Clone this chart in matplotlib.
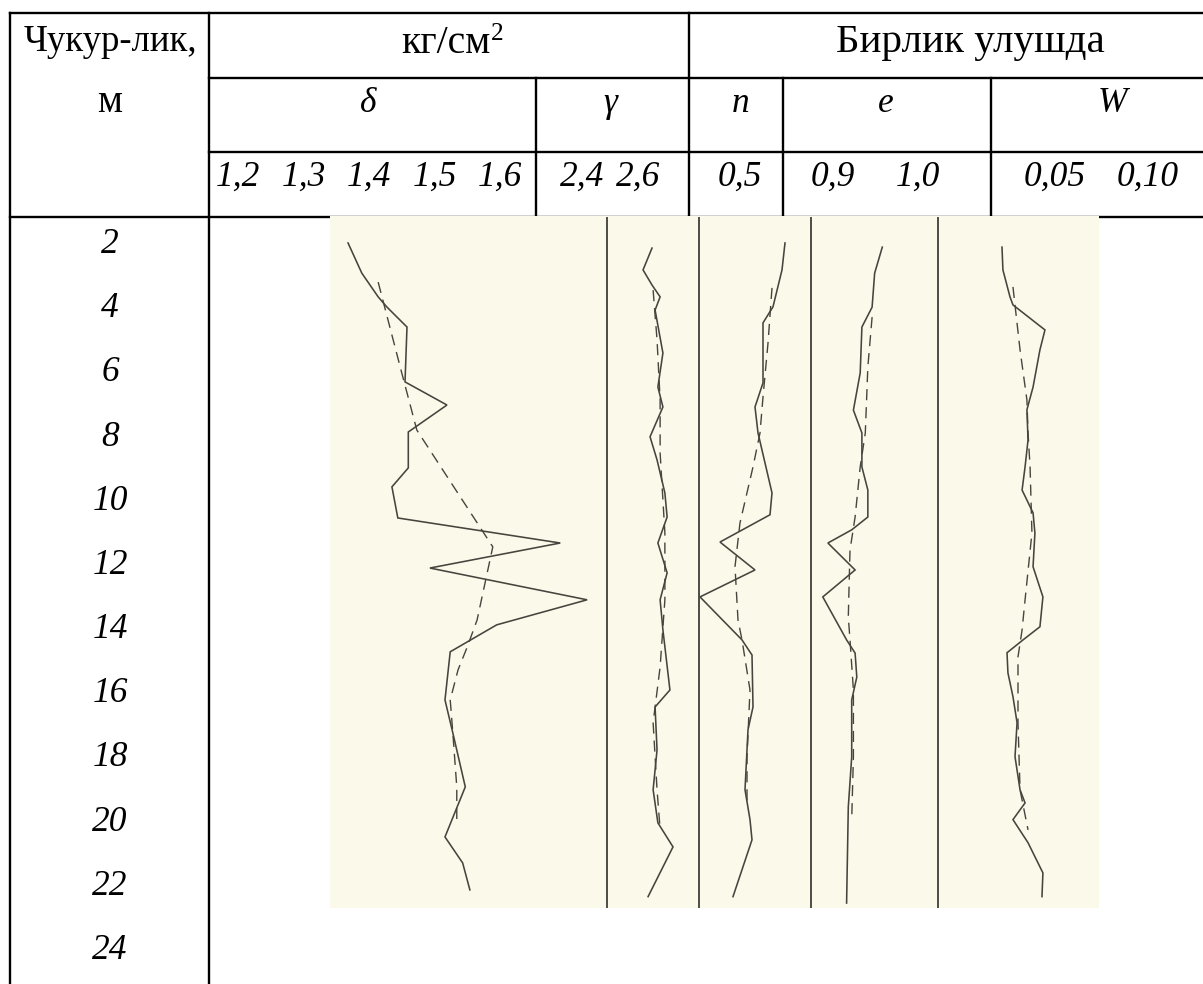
import matplotlib
matplotlib.use("Agg")
import matplotlib.pyplot as plt
from matplotlib.patches import Rectangle
from matplotlib import transforms

# ---------------- data ----------------
depth_ticks = [2, 4, 6, 8, 10, 12, 14, 16, 18, 20, 22, 24]

# delta (kg/cm2) - solid and dashed profiles
delta_depth = [2.03, 2.97, 3.71, 4.02, 4.65, 6.36, 7.08, 7.92, 9.04, 9.63, 10.6, 11.38,
               12.16, 13.15, 13.93, 14.77, 16.27, 17.3, 18.98, 20.54, 21.35, 22.19]
delta_vals = [1.368, 1.389, 1.414, 1.427, 1.458, 1.455, 1.519, 1.460, 1.460, 1.435, 1.444, 1.692,
              1.493, 1.733, 1.595, 1.524, 1.516, 1.528, 1.547, 1.516, 1.543, 1.554]
delta_d_depth = [3.25, 6.08, 7.86, 11.5, 13.78, 14.62, 15.33, 16.27, 17.3, 18.98, 20.1]
delta_d_vals = [1.414, 1.450, 1.473, 1.589, 1.565, 1.550, 1.536, 1.524, 1.528, 1.534, 1.534]

# gamma
gamma_depth = [2.19, 2.87, 3.34, 3.71, 4.12, 5.46, 6.52, 7.14, 8.07, 8.79, 9.82, 10.57,
               11.38, 12.31, 13.15, 14.09, 15.96, 16.49, 17.83, 19.07, 20.1, 20.85, 22.4]
gamma_vals = [2.650, 2.618, 2.650, 2.679, 2.661, 2.689, 2.671, 2.689, 2.643, 2.668, 2.696, 2.704,
              2.671, 2.704, 2.679, 2.689, 2.714, 2.661, 2.668, 2.654, 2.671, 2.725, 2.636]
gamma_d_depth = [3.5, 5.05, 6.92, 8.57, 11.07, 13.15, 15.24, 16.98, 19.07, 20.3]
gamma_d_vals = [2.654, 2.668, 2.679, 2.679, 2.696, 2.696, 2.679, 2.654, 2.668, 2.679]

# n
n_depth = [2.03, 2.87, 4.02, 4.52, 6.39, 7.14, 7.95, 9.82, 10.5, 11.35, 12.22, 13.06,
           14.4, 14.87, 16.49, 17.2, 19.07, 20.0, 20.63, 22.4]
n_vals = [0.545, 0.542, 0.533, 0.523, 0.523, 0.515, 0.518, 0.532, 0.530, 0.480, 0.515, 0.460,
          0.502, 0.512, 0.513, 0.508, 0.505, 0.510, 0.512, 0.493]
n_d_depth = [3.43, 5.15, 6.83, 7.95, 9.01, 10.75, 12.12, 13.78, 14.4, 15.96, 18.04, 19.6]
n_d_vals = [0.532, 0.528, 0.523, 0.520, 0.513, 0.500, 0.495, 0.498, 0.502, 0.510, 0.507, 0.507]

# e
e_depth = [2.16, 2.97, 4.03, 4.65, 6.08, 7.24, 7.95, 9.01, 9.73, 10.57, 10.97, 11.38,
           12.22, 13.06, 14.4, 14.81, 15.56, 16.27, 18.05, 19.61, 22.6]
e_vals = [0.958, 0.949, 0.946, 0.934, 0.932, 0.924, 0.934, 0.934, 0.941, 0.941, 0.922, 0.894,
          0.926, 0.888, 0.916, 0.926, 0.928, 0.922, 0.922, 0.918, 0.916]
e_d_depth = [4.34, 5.89, 7.95, 9.01, 10.57, 11.6, 13.68, 14.4, 15.96, 18.04, 20.0]
e_d_vals = [0.946, 0.941, 0.938, 0.932, 0.926, 0.920, 0.918, 0.920, 0.924, 0.924, 0.922]

# W
w_depth = [2.16, 2.87, 3.71, 3.96, 4.74, 5.36, 6.52, 7.23, 8.17, 9.01, 9.73, 10.44, 11.07,
           12.12, 13.06, 13.99, 14.4, 14.8, 15.43, 16.17, 16.98, 18.04, 19.07, 19.48, 20.0,
           20.72, 21.66, 22.4]
w_vals = [0.0215, 0.0220, 0.0258, 0.0274, 0.0446, 0.0419, 0.0382, 0.0349, 0.0355, 0.0339,
          0.0323, 0.0382, 0.0392, 0.0382, 0.0435, 0.0419, 0.0328, 0.0242, 0.0247, 0.0274,
          0.0296, 0.0285, 0.0312, 0.0339, 0.0274, 0.0355, 0.0435, 0.0430]
w_d_depth = [3.4, 5.36, 6.92, 7.95, 9.01, 11.07, 13.15, 14.09, 14.93, 16.98, 19.07, 20.32]
w_d_vals = [0.0274, 0.0312, 0.0349, 0.0355, 0.0366, 0.0376, 0.0339, 0.0323, 0.0301, 0.0301,
            0.0312, 0.0355]

delta_ticks = [1.2, 1.3, 1.4, 1.5, 1.6]
delta_tick_labels = ["1,2", "1,3", "1,4", "1,5", "1,6"]
gamma_ticks = [2.4, 2.6]
gamma_tick_labels = ["2,4", "2,6"]
n_ticks = [0.5]
n_tick_labels = ["0,5"]
e_ticks = [0.9, 1.0]
e_tick_labels = ["0,9", "1,0"]
w_ticks = [0.05, 0.10]
w_tick_labels = ["0,05", "0,10"]

# ---------------- layout ----------------
W, H = 1203, 984
fig = plt.figure(figsize=(W / 100, H / 100), dpi=100)
fig.patch.set_facecolor("white")
ax = fig.add_axes([0, 0, 1, 1])
ax.set_xlim(0, W)
ax.set_ylim(H, 0)
ax.axis("off")

SERIF = ["Liberation Serif", "DejaVu Serif"]
FS_TXT = 28.5   # upright Cyrillic header text
FS = 25.5       # italic numbers / symbols
LW = 1.7
BLACK = "black"

# table lines
def hline(y, x0, x1):
    ax.plot([x0, x1], [y, y], color=BLACK, lw=LW, solid_capstyle="projecting", zorder=1)

def vline(x, y0, y1):
    ax.plot([x, x], [y0, y1], color=BLACK, lw=LW, solid_capstyle="projecting", zorder=1)

hline(13, 10, W)
hline(78, 209, W)
hline(152, 209, W)
hline(217, 10, W)
vline(10, 13, H)
vline(209, 13, H)
vline(689, 13, 217)
vline(536, 78, 217)
vline(783, 78, 217)
vline(991, 78, 217)

# header texts
ax.text(110, 51, "Чукур-лик,", ha="center", va="baseline", family=SERIF, fontsize=26.5)
ax.text(110, 112, "м", ha="center", va="baseline", family=SERIF, fontsize=FS_TXT)
ax.text(490, 53, "кг/см", ha="right", va="baseline", family=SERIF, fontsize=FS_TXT)
ax.text(491, 40, "2", ha="left", va="baseline", family=SERIF, fontsize=FS_TXT * 0.64)
ax.text(970, 52, "Бирлик улушда", ha="center", va="baseline", family=SERIF, fontsize=29.5)
for x, s in [(368, "δ"), (610, "γ"), (741, "n"), (886, "e"), (1112, "W")]:
    ax.text(x, 112, s, ha="center", va="baseline", family=SERIF, fontsize=FS, style="italic")

# scanned drawing area
SCAN_X0, SCAN_X1 = 330, 1099
SCAN_Y0, SCAN_Y1 = 216, 908
ax.add_patch(Rectangle((SCAN_X0, SCAN_Y0), SCAN_X1 - SCAN_X0, SCAN_Y1 - SCAN_Y0,
                       facecolor="#fbf9ea", edgecolor="none", zorder=2))
for x in [607, 699, 811, 938]:
    ax.plot([x, x], [SCAN_Y0 + 2, SCAN_Y1 - 1], color="#4d4d48", lw=1.4, zorder=3)

# depth scale: 2 m at y=242 px, 32.09 px per metre
def depth_at(y):
    return 2 + (y - 242) / 32.09

ylim_depth = (depth_at(SCAN_Y1), depth_at(SCAN_Y0))

# column mappings: value v0 at pixel p0, slope per pixel
columns = [
    (SCAN_X0, 607, 238, 1.2, 0.4 / 262, (delta_vals, delta_depth), (delta_d_vals, delta_d_depth),
     delta_ticks, delta_tick_labels),
    (607, 699, 582, 2.4, 0.2 / 56, (gamma_vals, gamma_depth), (gamma_d_vals, gamma_d_depth),
     gamma_ticks, gamma_tick_labels),
    (699, 811, 740, 0.5, 0.001, (n_vals, n_depth), (n_d_vals, n_d_depth),
     n_ticks, n_tick_labels),
    (811, 938, 833, 0.9, 0.1 / 85, (e_vals, e_depth), (e_d_vals, e_d_depth),
     e_ticks, e_tick_labels),
    (938, SCAN_X1, 1055, 0.05, 0.05 / 93, (w_vals, w_depth), (w_d_vals, w_d_depth),
     w_ticks, w_tick_labels),
]

LINE_C = "#45453e"
first_ax = None
for (x0, x1, p0, v0, s, solid, dashed, ticks, labels) in columns:
    a = fig.add_axes([x0 / W, 1 - SCAN_Y1 / H, (x1 - x0) / W, (SCAN_Y1 - SCAN_Y0) / H])
    a.set_xlim(v0 + (x0 - p0) * s, v0 + (x1 - p0) * s)
    a.set_ylim(*ylim_depth)
    a.axis("off")
    a.patch.set_alpha(0)
    a.set_zorder(5)
    a.plot(solid[0], solid[1], color=LINE_C, lw=1.15, solid_joinstyle="miter")
    a.plot(dashed[0], dashed[1], color=LINE_C, lw=1.0, dashes=(8, 5))
    # header tick labels placed through this column's value scale
    tr = transforms.blended_transform_factory(a.transData, ax.transData)
    for t, lab in zip(ticks, labels):
        ax.text(t, 186, lab, transform=tr, ha="center", va="baseline", family=SERIF,
                fontsize=FS, style="italic", clip_on=False)
    if first_ax is None:
        first_ax = a

# depth labels via depth scale
trd = transforms.blended_transform_factory(ax.transData, first_ax.transData)
trd = transforms.offset_copy(trd, fig, y=-11, units="dots")
for d in depth_ticks:
    ax.text(110, d, str(d), transform=trd, ha="center", va="baseline", family=SERIF,
            fontsize=FS, style="italic", clip_on=False)

fig.savefig("out.png", dpi=100, facecolor="white")
